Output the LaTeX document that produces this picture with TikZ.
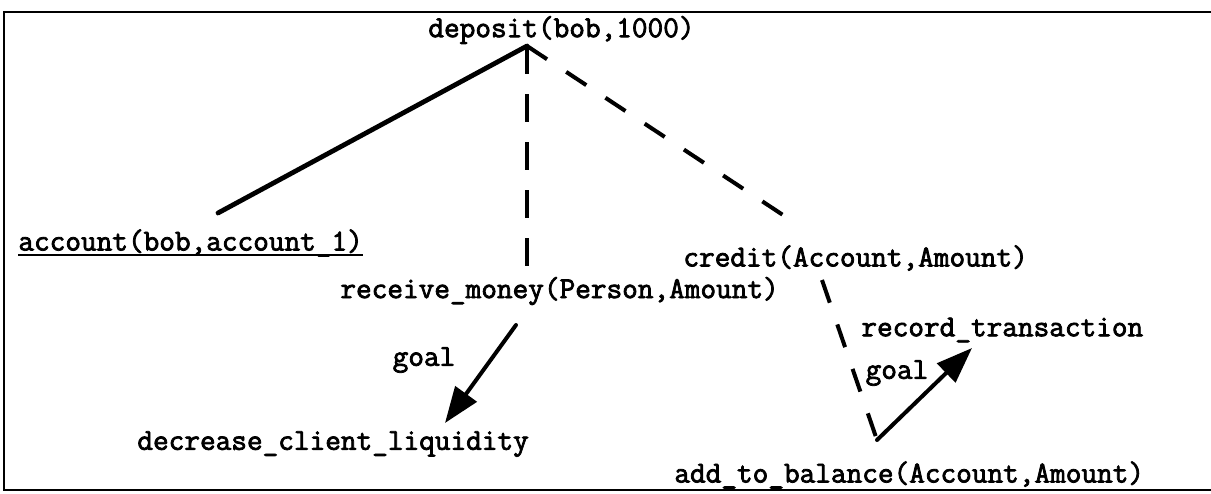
\documentclass[tikz,border=0pt]{standalone}
\usepackage{fontspec}
\newfontfamily\codefont{Latin Modern Mono}[FakeBold=2.5]
\usetikzlibrary{arrows.meta}
\newcommand\ulabel[1]{\setbox0\hbox{#1}\rlap{\vrule width\wd0 height -1.5pt depth 2.7pt}\box0}

\begin{document}
\begin{tikzpicture}[x=0.5pt, y=-0.5pt,
  term/.style={anchor=west, inner sep=0pt, font=\codefont\fontsize{15.2}{18}\selectfont},
  tag/.style={term, anchor=center},
  solidlink/.style={line width=2.4pt, line cap=round},
  dashlink/.style={line width=2pt, dash pattern=on 12pt off 11.5pt},
  goallink/.style={line width=2pt, line cap=round, -{Triangle[length=18pt,width=13pt]}}]
  \useasboundingbox (0,0) rectangle (1211,493);
  \draw[line width=1.3pt] (1211,12) -- (4,12) -- (4,490) -- (1211,490);

  \node[term] (deposit) at (428,30) {deposit(bob,1000)};
  \node[term] (account) at (18,243) {\ulabel{account(bob,account\_1)}};
  \node[term] (receive) at (340,291) {receive\_money(Person,Amount)};
  \node[term] (credit) at (683,258) {credit(Account,Amount)};
  \node[term] (decrease) at (137,444) {decrease\_client\_liquidity};
  \node[term] (record) at (861,330) {record\_transaction};
  \node[term] (balance) at (674,475) {add\_to\_balance(Account,Amount)};
  \node[tag] (goal-l) at (424,360) {goal};
  \node[tag] (goal-r) at (897,373) {goal};

  \coordinate (deposit-foot) at (527,46);
  \coordinate (account-head) at (218,213);
  \coordinate (receive-head) at (527,268);
  \coordinate (receive-foot) at (516,325);
  \coordinate (credit-head) at (783,215);
  \coordinate (credit-foot) at (822,280);
  \coordinate (decrease-head) at (445,423);
  \coordinate (balance-head) at (877,440);
  \coordinate (record-foot) at (972,348);

  \draw[solidlink] (deposit-foot) -- (account-head);
  \draw[dashlink, dash pattern=on 14pt off 10pt] (deposit-foot) -- (receive-head);
  \draw[dashlink] (deposit-foot) -- (credit-head);
  \draw[dashlink] (credit-foot) -- (balance-head);
  \draw[goallink] (receive-foot) -- (decrease-head);
  \draw[goallink] (balance-head) -- (record-foot);
\end{tikzpicture}
\end{document}
